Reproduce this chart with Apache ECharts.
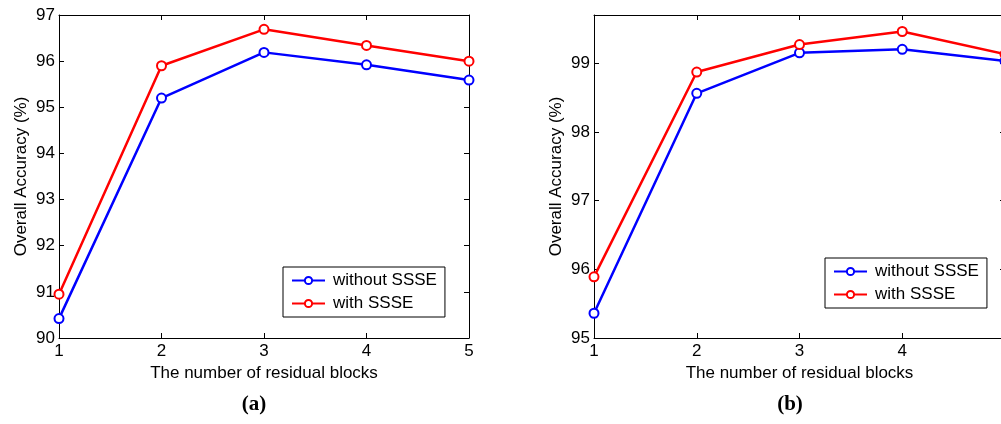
<!DOCTYPE html>
<html>
<head>
<meta charset="utf-8">
<script src="https://cdn.jsdelivr.net/npm/echarts@6/dist/echarts.min.js"></script>
<style>
html,body{margin:0;padding:0;background:#fff;}
#c{width:1001px;height:424px;}
</style>
</head>
<body>
<div id="c"></div>
<script>
const categories = ['1', '2', '3', '4', '5'];
const seriesNames = ['without SSSE', 'with SSSE'];
// Panel (a)
const aWithout = [90.42, 95.2, 96.19, 95.92, 95.59];
const aWith = [90.95, 95.9, 96.69, 96.34, 96.0];
// Panel (b)
const bWithout = [95.36, 98.56, 99.15, 99.2, 99.03];
const bWith = [95.89, 98.87, 99.27, 99.46, 99.13];
const aYTicks = { min: 90, max: 97, interval: 1 };
const bYTicks = { min: 95, max: 99.7, interval: 1 };
const xName = 'The number of residual blocks';
const yName = 'Overall Accuracy (%)';
const panelLabels = ['a', 'b'];

const FONT = 'Liberation Sans';
const FS = 17;
const chart = echarts.init(document.getElementById('c'));

const grids = [
  { left: 59, top: 15, width: 410, height: 323, outerBoundsMode: 'none', containLabel: false },
  { left: 594, top: 15, width: 411, height: 323, outerBoundsMode: 'none', containLabel: false }
];

function xAxes(gi) {
  return [
    {
      type: 'category', gridIndex: gi, data: categories, boundaryGap: false,
      name: xName, nameLocation: 'middle', nameGap: 24,
      nameTextStyle: { fontFamily: FONT, fontSize: FS, color: '#000' },
      axisLine: { lineStyle: { color: '#000', width: 1 } },
      axisTick: { inside: true, length: 5, lineStyle: { color: '#000' } },
      axisLabel: { fontFamily: FONT, fontSize: FS, color: '#000', margin: 5, hideOverlap: false },
      splitLine: { show: false }
    },
    {
      type: 'category', gridIndex: gi, data: categories, boundaryGap: false, position: 'top',
      axisLine: { lineStyle: { color: '#000', width: 1 } },
      axisTick: { inside: true, length: 5, lineStyle: { color: '#000' } },
      axisLabel: { show: false }, splitLine: { show: false }
    }
  ];
}
function yAxes(gi, t) {
  return [
    {
      type: 'value', gridIndex: gi, min: t.min, max: t.max, interval: t.interval,
      name: yName, nameLocation: 'middle', nameGap: 29,
      nameTextStyle: { fontFamily: FONT, fontSize: FS, color: '#000' },
      axisLine: { show: true, lineStyle: { color: '#000', width: 1 } },
      axisTick: { show: true, inside: true, length: 5, lineStyle: { color: '#000' } },
      axisLabel: { fontFamily: FONT, fontSize: FS, color: '#000', margin: 4, showMaxLabel: t.max % t.interval === 0 },
      splitLine: { show: false }
    },
    {
      type: 'value', gridIndex: gi, min: t.min, max: t.max, interval: t.interval, position: 'right',
      axisLine: { show: true, lineStyle: { color: '#000', width: 1 } },
      axisTick: { show: true, inside: true, length: 5, lineStyle: { color: '#000' } },
      axisLabel: { show: false }, splitLine: { show: false }
    }
  ];
}

function line(name, data, xi, yi, color) {
  return {
    name, type: 'line', data, xAxisIndex: xi, yAxisIndex: yi,
    symbol: 'emptyCircle', symbolSize: 9, showSymbol: true,
    lineStyle: { color, width: 2.5 },
    itemStyle: { color, borderColor: color, borderWidth: 2 },
    emphasis: { disabled: true }, animation: false, z: 3
  };
}

function legend(left, top) {
  return {
    show: true, left, top, orient: 'vertical',
    data: seriesNames, itemWidth: 33, itemHeight: 9, itemGap: 6,
    padding: [5, 8, 5, 8], borderColor: '#000', borderWidth: 1, backgroundColor: '#fff',
    textStyle: { fontFamily: FONT, fontSize: FS, color: '#000', padding: [0, 0, 0, 3] },
    selectedMode: false
  };
}

const rich = {
  p: { fontFamily: 'Liberation Serif', fontSize: 21, color: '#000' },
  b: { fontFamily: 'Liberation Serif', fontSize: 21, fontWeight: 'bold', color: '#000' }
};

chart.setOption({
  animation: false,
  backgroundColor: '#fff',
  title: [
    { text: '{p|(}{b|' + panelLabels[0] + '}{p|)}', left: 254, top: 394, textAlign: 'center', padding: 0, textStyle: { rich } },
    { text: '{p|(}{b|' + panelLabels[1] + '}{p|)}', left: 790, top: 394, textAlign: 'center', padding: 0, textStyle: { rich } }
  ],
  grid: grids,
  xAxis: [...xAxes(0), ...xAxes(1)],
  yAxis: [...yAxes(0, aYTicks), ...yAxes(1, bYTicks)],
  legend: [legend(283, 267), legend(825, 258)],
  series: [
    line(seriesNames[0], aWithout, 0, 0, '#0000ff'),
    line(seriesNames[1], aWith, 0, 0, '#ff0000'),
    line(seriesNames[0], bWithout, 2, 2, '#0000ff'),
    line(seriesNames[1], bWith, 2, 2, '#ff0000')
  ]
});
</script>
</body>
</html>
